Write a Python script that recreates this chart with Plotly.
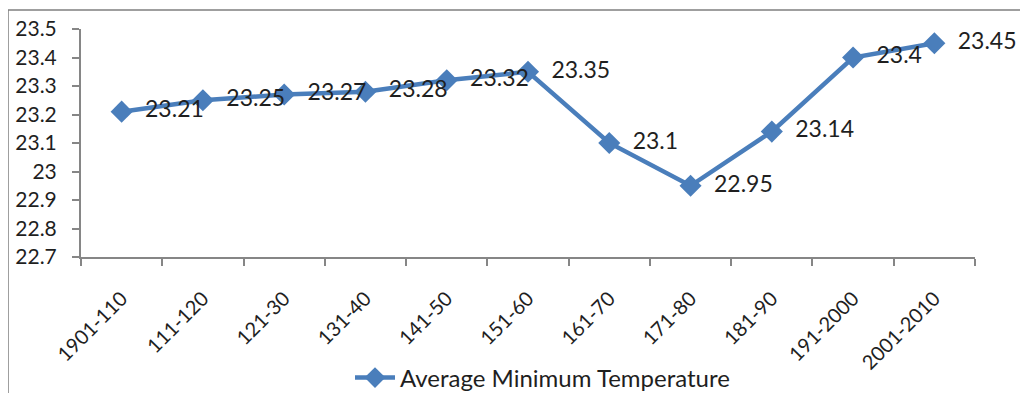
import plotly.graph_objects as go

categories = ["1901-110", "111-120", "121-30", "131-40", "141-50", "151-60",
              "161-70", "171-80", "181-90", "191-2000", "2001-2010"]
values = [23.21, 23.25, 23.27, 23.28, 23.32, 23.35, 23.1, 22.95, 23.14, 23.4, 23.45]
value_labels = ["23.21", "23.25", "23.27", "23.28", "23.32", "23.35", "23.1",
                "22.95", "23.14", "23.4", "23.45"]
series_name = "Average Minimum Temperature"

OFF = 8  # page body margin
W, H = 1020, 385
L, R, T, B = 73, 53, 21, 136
pw, ph = W - L - R, H - T - B

def px(xs):
    return (xs - OFF - L) / pw

def py(ys):
    return (H - B - (ys - OFF)) / ph

blue = "#4A7EBB"
font = "Lato, 'Open Sans', sans-serif"
txt = "#1f1f1f"

fig = go.Figure()
fig.add_trace(go.Scatter(
    x=categories, y=values, mode="lines+markers+text",
    name=series_name,
    line=dict(color=blue, width=4.5),
    marker=dict(symbol="diamond", size=17, color=blue),
    text=value_labels, texttemplate="  %{text}", textposition="middle right",
    textfont=dict(family=font, size=23, color=txt),
    cliponaxis=False,
))

fig.update_layout(
    width=W, height=H,
    margin=dict(l=L, r=R, t=T, b=B, autoexpand=False),
    paper_bgcolor="white", plot_bgcolor="white",
    showlegend=True,
    legend=dict(orientation="h", x=px(350), y=py(378), xanchor="left", yanchor="middle",
                font=dict(family=font, size=24, color=txt), itemwidth=40,
                bgcolor="rgba(0,0,0,0)"),
    xaxis=dict(type="category", range=[-0.5, 10.5], showline=True, linecolor="#868686",
               linewidth=2, ticks="outside", tickson="boundaries", ticklen=7,
               tickcolor="#868686", tickwidth=2, tickangle=-45, showgrid=False,
               automargin=False,
               tickfont=dict(family=font, size=20, color=txt), ticklabelstandoff=20),
    yaxis=dict(range=[22.7, 23.5], dtick=0.1, tickformat="~g", showline=True,
               linecolor="#868686", linewidth=2, ticks="outside", ticklen=7,
               tickcolor="#868686", tickwidth=2, showgrid=False, zeroline=False,
               automargin=False,
               tickfont=dict(family=font, size=21, color=txt), ticklabelstandoff=11),
    shapes=[
        dict(type="line", xref="paper", yref="paper", x0=px(8), x1=px(1040), y0=py(10), y1=py(10),
             line=dict(color="#7f7f7f", width=1.5)),
        dict(type="line", xref="paper", yref="paper", x0=px(8), x1=px(8), y0=py(10), y1=py(400),
             line=dict(color="#7f7f7f", width=1.5)),
    ],
)

fig.write_html("out.html")
